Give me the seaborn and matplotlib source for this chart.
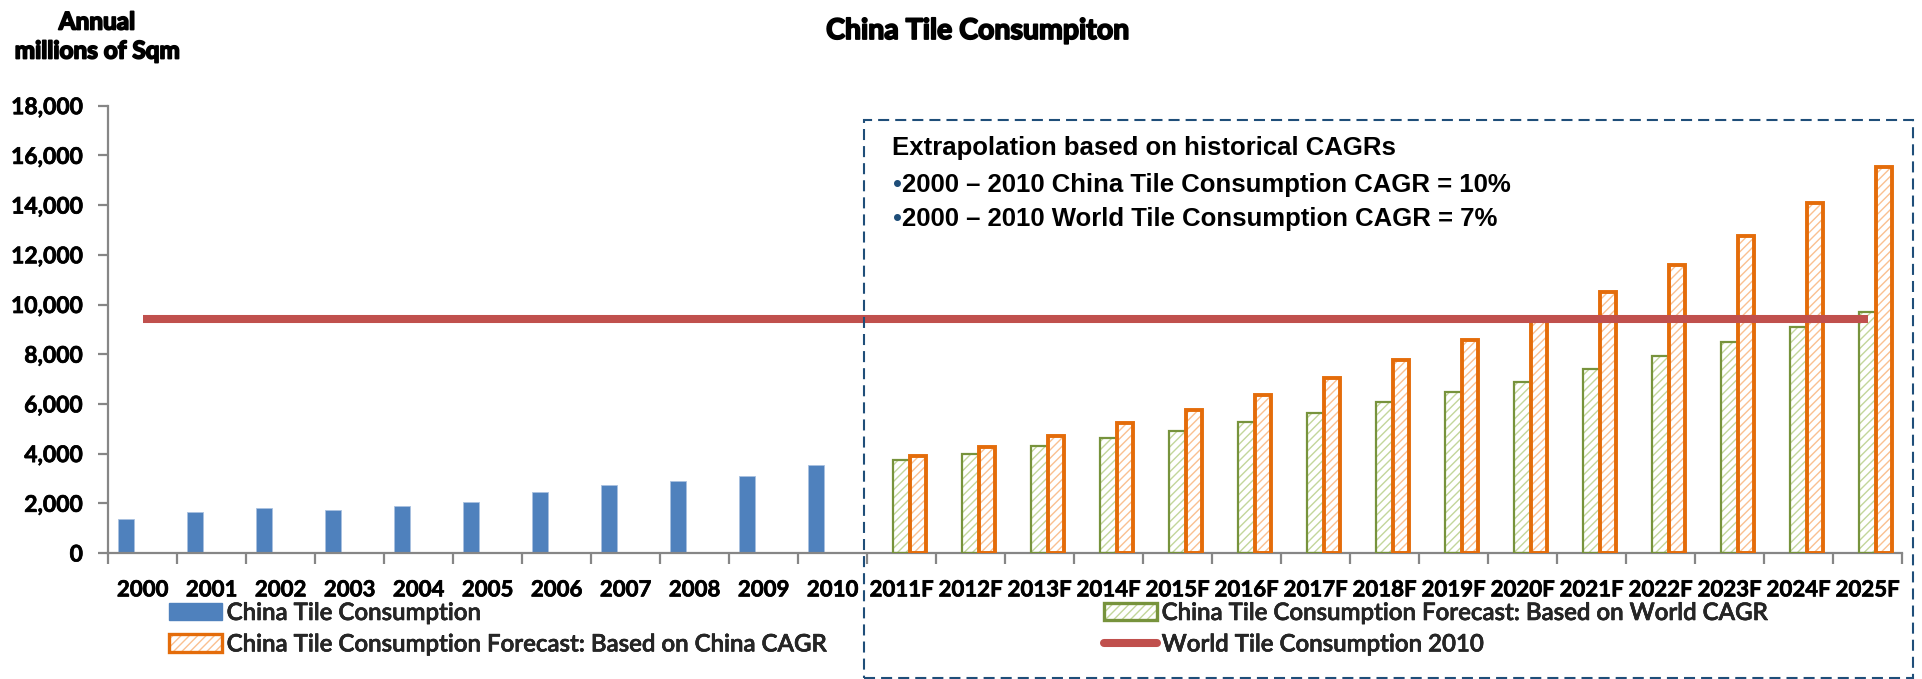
import numpy as np
import pandas as pd
import matplotlib
matplotlib.use("Agg")
import matplotlib.pyplot as plt
import matplotlib.patheffects as pe
from matplotlib.patches import Rectangle, Patch
from matplotlib.lines import Line2D
from matplotlib.ticker import FuncFormatter, FixedLocator
import seaborn as sns

# ---- data -------------------------------------------------------------
categories = ["2000", "2001", "2002", "2003", "2004", "2005", "2006", "2007",
              "2008", "2009", "2010", "2011F", "2012F", "2013F", "2014F",
              "2015F", "2016F", "2017F", "2018F", "2019F", "2020F", "2021F",
              "2022F", "2023F", "2024F", "2025F"]
actual_years = categories[:11]
forecast_years = categories[11:]

china_actual = [1350, 1650, 1810, 1750, 1910, 2070, 2470, 2750, 2910, 3100, 3560]
forecast_world_cagr = [3730, 4000, 4300, 4630, 4920, 5270, 5650, 6080, 6490,
                       6900, 7420, 7940, 8490, 9080, 9710]
forecast_china_cagr = [3900, 4270, 4720, 5230, 5760, 6370, 7040, 7780, 8560,
                       9400, 10490, 11580, 12740, 14090, 15530]
world_2010 = 9400

series_names = ["China Tile Consumption",
                "China Tile Consumption Forecast: Based on World CAGR",
                "China Tile Consumption Forecast: Based on China CAGR"]
line_name = "World Tile Consumption 2010"

title_text = "China Tile Consumpiton"
ylabel_lines = ["Annual", "millions of Sqm"]
note_head = "Extrapolation based on historical CAGRs"
note_items = ["2000 \u2013 2010 China Tile Consumption CAGR = 10%",
              "2000 \u2013 2010 World Tile Consumption CAGR = 7%"]

# ---- style ------------------------------------------------------------
BLUE = "#4F81BD"
GREEN_EDGE = "#77933C"
GREEN_HATCH = "#C3D69B"
ORANGE_EDGE = "#E46C0A"
ORANGE_HATCH = "#FAC090"
RED = "#C0504D"
AXIS_GREY = "#868686"
BOX_BLUE = "#1F4E79"

sns.set_style("white")
plt.rcParams["font.family"] = ["Lato", "DejaVu Sans"]
plt.rcParams["hatch.linewidth"] = 1.0

W, H = 1922, 679
fig = plt.figure(figsize=(W / 100, H / 100), dpi=100)


def fx(px):
    return px / W


def fy(py):
    return 1 - py / H


ax = fig.add_axes([fx(108), fy(553), fx(1902) - fx(108), fy(105.7) - fy(553)])

rows = []
for c, v in zip(actual_years, china_actual):
    rows.append((c, series_names[0], v))
for c, v in zip(forecast_years, forecast_world_cagr):
    rows.append((c, series_names[1], v))
for c, v in zip(forecast_years, forecast_china_cagr):
    rows.append((c, series_names[2], v))
df = pd.DataFrame(rows, columns=["year", "series", "value"])

sns.barplot(data=df, x="year", y="value", hue="series", order=categories,
            hue_order=series_names, palette=[BLUE, "white", "white"],
            width=0.72, saturation=1, errorbar=None, legend=False, ax=ax,
            zorder=2)

# blue bars: thin light rim
for bar in ax.containers[0]:
    bar.set_edgecolor("#A9C1E0")
    bar.set_linewidth(0.6)

# forecast bars: light hatch inside, solid coloured outline
for cont, edge, hatch_col, lw in [(ax.containers[1], GREEN_EDGE, GREEN_HATCH, 1.6),
                                  (ax.containers[2], ORANGE_EDGE, ORANGE_HATCH, 2.8)]:
    for bar in cont:
        bar.set_facecolor("white")
        bar.set_edgecolor(hatch_col)
        bar.set_hatch("////")
        bar.set_linewidth(0)
        ax.add_patch(Rectangle(bar.get_xy(), bar.get_width(), bar.get_height(),
                               fill=False, edgecolor=edge, linewidth=lw,
                               zorder=3))

# world consumption reference level
xpos = np.arange(len(categories))
ax.plot(xpos, np.full(len(categories), world_2010), color=RED, lw=5.8,
        solid_capstyle="butt", zorder=4)

# ---- axes -------------------------------------------------------------
ax.set_xlim(-0.5, len(categories) - 0.5)
ax.set_ylim(0, 18000)
ax.set_xlabel("")
ax.set_ylabel("")
ax.yaxis.set_major_locator(FixedLocator(np.arange(0, 18001, 2000)))
ax.yaxis.set_major_formatter(FuncFormatter(lambda v, p: f"{int(v):,}"))
ax.set_xticks(xpos)
ax.set_xticklabels(categories)
ax.xaxis.set_minor_locator(FixedLocator(np.arange(-0.5, len(categories), 1)))

for side in ["top", "right"]:
    ax.spines[side].set_visible(False)
for side in ["left", "bottom"]:
    ax.spines[side].set_color(AXIS_GREY)
    ax.spines[side].set_linewidth(1.6)

ax.tick_params(axis="y", which="major", direction="out", length=7, width=1.6,
               color=AXIS_GREY, pad=11, labelsize=16.5, left=True)
ax.tick_params(axis="x", which="major", length=0, pad=19, labelsize=16)
ax.tick_params(axis="x", which="minor", direction="out", length=8, width=1.6,
               color=AXIS_GREY, bottom=True)
for lab in ax.get_xticklabels() + ax.get_yticklabels():
    lab.set_fontweight("bold")
    lab.set_color("black")
    lab.set_path_effects([pe.withStroke(linewidth=0.5, foreground="black")])

# ---- titles -----------------------------------------------------------
heavy = [pe.withStroke(linewidth=1.3, foreground="black")]
fig.text(fx(978), fy(31), title_text, ha="center", va="center",
         fontsize=20.5, fontweight="bold", color="black", path_effects=heavy)
fig.text(fx(97), fy(22), ylabel_lines[0], ha="center", va="center",
         fontsize=17.5, fontweight="bold", color="black", path_effects=heavy)
fig.text(fx(97), fy(51), ylabel_lines[1], ha="center", va="center",
         fontsize=17.5, fontweight="bold", color="black", path_effects=heavy)

# ---- note box ---------------------------------------------------------
fig.add_artist(Rectangle((fx(864), fy(678)), fx(1913) - fx(864),
                         fy(120) - fy(678), transform=fig.transFigure,
                         fill=False, edgecolor=BOX_BLUE, linewidth=1.5,
                         linestyle=(0, (5.3, 2.9)), zorder=5))
note_font = dict(family=["Liberation Sans", "DejaVu Sans"], fontweight="bold",
                 fontsize=18.5, color="black", va="center", ha="left")
fig.text(fx(892), fy(148), note_head, **note_font)
for yy, item in zip([185, 219], note_items):
    fig.text(fx(893), fy(yy), "\u2022", family=["Liberation Sans", "DejaVu Sans"],
             fontsize=18.5, color=BOX_BLUE, va="center", ha="left")
    fig.text(fx(902), fy(yy), item, **note_font)

# ---- legend -----------------------------------------------------------
h_blue = Patch(facecolor=BLUE, edgecolor=BLUE)
h_green = (Patch(facecolor="white", edgecolor=GREEN_HATCH, hatch="////", lw=0),
           Patch(fill=False, edgecolor=GREEN_EDGE, lw=2.4))
h_orange = (Patch(facecolor="white", edgecolor=ORANGE_HATCH, hatch="////", lw=0),
            Patch(fill=False, edgecolor=ORANGE_EDGE, lw=2.4))
h_red = Line2D([], [], color=RED, lw=5.8, solid_capstyle="round")

leg_kw = dict(loc="upper left", frameon=False, borderpad=0,
              borderaxespad=0, handlelength=2.2, handleheight=0.75,
              handletextpad=0.2, labelspacing=0.35,
              prop=dict(family=["Lato", "DejaVu Sans"], weight="semibold",
                        size=17.3))
leg1 = fig.legend([h_blue, h_orange], [series_names[0], series_names[2]],
                  bbox_to_anchor=(fx(169), fy(601)), **leg_kw)
leg2 = fig.legend([h_green, h_red], [series_names[1], line_name],
                  bbox_to_anchor=(fx(1104), fy(601)), **leg_kw)
for leg in (leg1, leg2):
    for t in leg.get_texts():
        t.set_path_effects([pe.withStroke(linewidth=0.4, foreground="black")])

fig.savefig("out.png", dpi=100)
